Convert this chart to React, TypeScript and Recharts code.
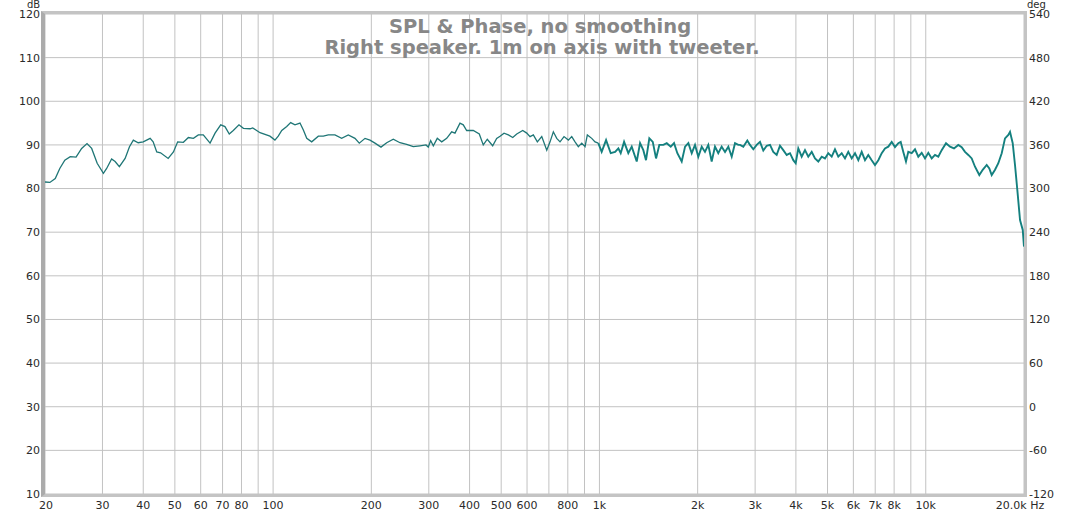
import React from 'react';
import { LineChart, Line, XAxis, YAxis, CartesianGrid } from 'recharts';

// Frequency (Hz) / SPL (dB), split in bands
const lowFreq = [20, 20.7, 21.5, 22.2, 23.0, 23.9, 24.9, 25.9, 26.9, 27.8, 28.9, 30.2, 30.9, 32.0, 32.8, 33.8, 35.2, 36.3, 37.3, 38.6, 40.0, 42.0, 42.9, 44.0, 45.2, 47.7, 49.5, 51.0, 53.1, 55.0, 57.0, 59.0, 61.1, 64.1, 66.4, 69.1, 71.2, 73.4, 75.5, 78.6, 81.1, 85.0, 86.6, 91.2, 97.8, 101.3, 103.7];
const lowSpl = [81.5, 81.4, 82.3, 84.6, 86.5, 87.3, 87.2, 89.2, 90.3, 89.2, 85.8, 83.5, 84.6, 86.8, 86.2, 85.0, 86.9, 89.6, 91.1, 90.5, 90.7, 91.5, 90.7, 88.4, 88.2, 86.9, 88.4, 90.7, 90.6, 91.7, 91.5, 92.3, 92.3, 90.4, 92.7, 94.6, 94.2, 92.5, 93.3, 94.6, 93.8, 93.7, 93.9, 92.8, 92.0, 91.1, 92.0];

const midFreq = [106.3, 110.1, 113.2, 116.7, 120.9, 123.8, 126.8, 131.3, 137.6, 142.5, 147.6, 154.7, 162.2, 170.0, 178.2, 183.7, 191.3, 198.1, 205.2, 214.1, 222.9, 233.5, 244.8, 256.6, 268.9, 281.9, 294.1, 298.9, 304.0, 309.7, 318.5, 328.6, 340.4, 352.6, 360.9, 373.8, 382.6, 391.9, 410.6, 428.4, 440.6, 453.3, 470.8, 484.3, 496.0, 510.1, 525.9, 542.5, 558.0, 582.1, 598.8, 612.9, 627.3, 645.3, 665.7, 689.6, 705.8, 722.4, 739.9, 757.3, 779.0, 803.1, 822.5, 841.9, 861.7, 882.7, 903.5, 918.2, 947.2, 969.4, 992.2];
const midSpl = [93.3, 94.2, 95.1, 94.6, 95.0, 93.4, 91.5, 90.7, 92.0, 92.0, 92.3, 92.3, 91.5, 92.3, 91.5, 90.4, 91.5, 91.1, 90.4, 89.5, 90.5, 91.3, 90.5, 90.1, 89.6, 89.8, 90.0, 89.5, 91.0, 89.8, 91.5, 90.7, 91.5, 93.0, 92.7, 95.0, 94.6, 93.3, 93.3, 92.5, 90.0, 91.3, 89.8, 91.5, 92.0, 92.7, 92.3, 91.7, 92.5, 93.3, 92.7, 91.9, 92.3, 90.7, 91.9, 88.8, 90.7, 93.0, 91.5, 90.7, 91.9, 91.1, 91.9, 90.7, 89.6, 90.4, 89.6, 92.3, 91.5, 90.7, 90.4];

const highFreq = [1016, 1048, 1083, 1117, 1143, 1162, 1190, 1226, 1256, 1301, 1332, 1363, 1389, 1422, 1457, 1491, 1526, 1570, 1608, 1654, 1693, 1733, 1787, 1830, 1873, 1918, 1963, 2009, 2058, 2106, 2156, 2208, 2260, 2313, 2369, 2426, 2483, 2543, 2603, 2664, 2697, 2760, 2839, 2893, 2962, 3033, 3105, 3178, 3255, 3332, 3410, 3493, 3575, 3659, 3749, 3837, 3927, 3994, 4068, 4167, 4265, 4365, 4472, 4577, 4685, 4799, 4911, 5027, 5149, 5270, 5395, 5526, 5656, 5789, 5930, 6070, 6213, 6363, 6513, 6666, 6828, 6989, 7155, 7329, 7501, 7677, 7864, 8049, 8240, 8379, 8535, 8698, 8841, 9056, 9269, 9487, 9717, 9947];
const highSpl = [88.4, 91.1, 88.1, 88.4, 89.2, 88.1, 90.7, 88.1, 89.6, 86.2, 90.4, 88.8, 86.5, 91.5, 90.7, 86.9, 90.0, 90.0, 90.4, 89.6, 90.4, 88.1, 86.2, 89.6, 90.4, 88.1, 90.0, 87.3, 89.6, 88.4, 90.0, 86.2, 89.6, 88.1, 89.6, 88.4, 89.6, 87.3, 90.4, 90.0, 90.0, 89.6, 91.0, 90.0, 89.0, 90.0, 90.7, 88.7, 89.8, 90.0, 88.4, 87.7, 89.8, 88.8, 87.7, 88.1, 86.5, 85.8, 89.2, 87.3, 88.8, 87.3, 88.4, 86.9, 86.2, 87.3, 86.9, 88.1, 87.3, 89.0, 87.3, 88.1, 86.9, 88.4, 86.9, 88.1, 86.5, 88.4, 86.5, 87.7, 86.5, 85.4, 86.5, 88.1, 89.2, 89.6, 90.7, 89.5, 90.4, 90.7, 88.4, 86.2, 88.4, 88.1, 89.0, 87.3, 88.2, 86.9];

const topFreq = [10181, 10428, 10673, 10924, 11189, 11535, 11867, 12205, 12581, 12886, 13190, 13503, 13829, 14155, 14592, 14945, 15371, 15657, 15924, 16303, 16686, 17090, 17492, 17904, 18120, 18469, 18770, 19079, 19448, 19823, 20000];
const topSpl = [88.2, 86.9, 87.7, 87.3, 88.8, 90.4, 89.6, 89.2, 90.0, 89.5, 88.4, 87.7, 86.9, 85.0, 83.1, 84.3, 85.4, 84.6, 83.1, 84.3, 85.8, 88.1, 91.5, 92.3, 93.0, 90.4, 85.4, 79.7, 72.8, 70.5, 66.7];

const xGridTicks = [20, 30, 40, 50, 60, 70, 80, 90, 100, 200, 300, 400, 500, 600, 700, 800, 900, 1000, 2000, 3000, 4000, 5000, 6000, 7000, 8000, 9000, 10000, 20000];
const xTickLabels: Record<number, string> = {
  20: '20', 30: '30', 40: '40', 50: '50', 60: '60', 70: '70', 80: '80', 100: '100',
  200: '200', 300: '300', 400: '400', 500: '500', 600: '600', 800: '800',
  1000: '1k', 2000: '2k', 3000: '3k', 4000: '4k', 5000: '5k', 6000: '6k', 7000: '7k', 8000: '8k',
  10000: '10k', 20000: '20.0k Hz',
};
const splTicks = [10, 20, 30, 40, 50, 60, 70, 80, 90, 100, 110, 120];
const phaseTicks = [-120, -60, 0, 60, 120, 180, 240, 300, 360, 420, 480, 540];
const titleLines = ['SPL & Phase, no smoothing', 'Right speaker. 1m on axis with tweeter.'];

// smooth (low) part and noisy (high) part drawn as two strokes of the same trace
const smoothFreq = [...lowFreq, ...midFreq];
const smoothSpl = [...lowSpl, ...midSpl];
const noisyFreq = [...highFreq, ...topFreq];
const noisySpl = [...highSpl, ...topSpl];

type Row = { f: number; a?: number; b?: number };
const data: Row[] = [
  ...smoothFreq.map((f, i) => ({ f, a: smoothSpl[i] } as Row)),
  ...noisyFreq.map((f, i) => ({ f, b: noisySpl[i] } as Row)),
];
// join point so the two strokes connect
data[smoothFreq.length - 1].b = smoothSpl[smoothSpl.length - 1];

const tickFont = { fontFamily: 'DejaVu Sans', fontSize: 11, fill: '#2a2a2a' };

const XTick = (props: any) => {
  const { x, y, payload } = props;
  const label = xTickLabels[payload.value];
  if (!label) return <g />;
  let cx = x;
  if (payload.value === 20) cx = x + 1;
  if (payload.value === 20000) cx = x - 4;
  return (
    <text x={cx} y={y} dy="0.71em" textAnchor="middle" {...tickFont}>
      {label}
    </text>
  );
};

const unitStyle: React.CSSProperties = {
  position: 'absolute', top: 3, fontFamily: 'DejaVu Sans', fontSize: 10, lineHeight: '4px', color: '#2a2a2a',
};

export default function App() {
  return (
    <div style={{ position: 'absolute', left: 0, top: 0, width: 1080, height: 514, background: '#fff', overflow: 'hidden' }}>
      <LineChart width={1080} height={514} data={data} margin={{ top: 14, right: 0, bottom: 0, left: 0 }}>
        <CartesianGrid yAxisId="left" stroke="#c2c2c2" strokeDasharray="" vertical horizontal />
        <XAxis
          dataKey="f"
          type="number"
          scale="log"
          domain={[20, 20000]}
          ticks={xGridTicks}
          interval={0}
          allowDataOverflow
          axisLine={false}
          tickLine={false}
          tickSize={4}
          tickMargin={3}
          height={20}
          tick={<XTick />}
        />
        <YAxis
          yAxisId="left"
          domain={[10, 120]}
          ticks={splTicks}
          interval={0}
          width={45}
          axisLine={false}
          tickLine={false}
          tickSize={3}
          tickMargin={2}
          tick={tickFont}
        />
        <YAxis
          yAxisId="right"
          orientation="right"
          type="number"
          domain={[-120, 540]}
          allowDataOverflow
          ticks={phaseTicks}
          interval={0}
          width={56}
          axisLine={false}
          tickLine={false}
          tickSize={3}
          tickMargin={2}
          tick={tickFont}
        />
        <Line
          yAxisId="right"
          dataKey="phase"
          stroke="none"
          dot={false}
          activeDot={false}
          legendType="none"
          isAnimationActive={false}
        />
        <Line
          yAxisId="left"
          dataKey="a"
          type="linear"
          stroke="#1f7676"
          strokeWidth={1.3}
          dot={false}
          activeDot={false}
          isAnimationActive={false}
        />
        <Line
          yAxisId="left"
          dataKey="b"
          type="linear"
          stroke="#14807f"
          strokeWidth={1.9}
          dot={false}
          activeDot={false}
          isAnimationActive={false}
        />
      </LineChart>
      <div
        style={{
          position: 'absolute', left: 41, top: 11, width: 986, height: 486, boxSizing: 'border-box',
          border: '3px solid #c4c4c4', borderLeft: '4px solid #ababab', pointerEvents: 'none',
        }}
      />
      <div style={{ ...unitStyle, left: 27 }}>dB</div>
      <div style={{ ...unitStyle, left: 1027 }}>deg</div>
      {titleLines.map((t, i) => (
        <div
          key={i}
          style={{
            position: 'absolute', left: 0, top: 16 + i * 21, width: 1080, textAlign: 'center',
            fontFamily: 'DejaVu Sans', fontWeight: 'bold', fontSize: 19.5, lineHeight: '21px', color: '#878787',
            paddingLeft: i === 0 ? 0 : 2,
          }}
        >
          {t}
        </div>
      ))}
    </div>
  );
}
